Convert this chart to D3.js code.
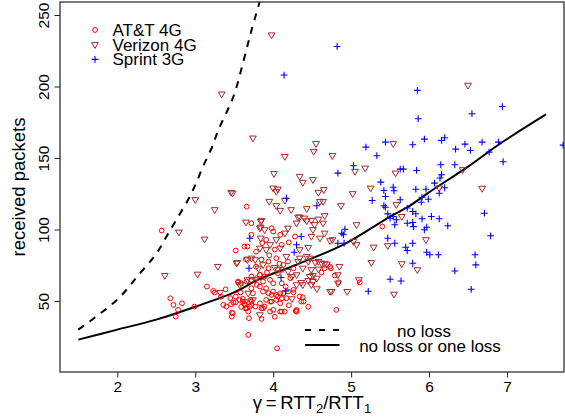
<!DOCTYPE html>
<html>
<head>
<meta charset="utf-8">
<script src="https://cdn.jsdelivr.net/npm/d3@7"></script>
<style>
  body { margin: 0; background: #fff; }
  text { font-family: "Liberation Sans", Arial, sans-serif; fill: #000; }
</style>
</head>
<body>
<script>
// data: [gamma, received packets]
const attPoints = [
  [2.57,99.3],[2.68,51.9],[2.72,47.3],[2.83,48.4],[2.78,43.8],[2.75,39.1],[2.99,46.1],
  [3.15,60.1],[3.23,57],[3.25,55.9],[3.36,47.3],[3.4,46.1],[3.47,41.9],[3.47,39.1],
  [3.49,48.9],[3.46,47.8],[3.39,58.2],[3.52,85.3],[3.63,88.1],[3.67,88.1],[3.65,79.2],
  [3.55,62.9],[3.59,62.4],[3.52,53.1],[3.52,49.2],[3.57,50.8],[3.61,51.5],[3.63,47.8],
  [3.59,45.9],[3.48,41.4],[3.66,44.9],[3.68,42.6],[3.68,26.3],[3.64,49.6],[3.64,44.9],
  [3.7,46.1],[3.71,50.8],[3.74,55.4],[4.05,16.9],[3.66,116],
  [3.98,100.9],[4.0,98.6],[4.09,96.3],[3.91,92.8],[3.72,96.3],[4.11,89.3],[4.28,95.1],
  [4.04,79.9],[4.19,77.6],[3.94,77.6],[3.94,72.9],[3.72,67.1],[3.83,68.3],[3.87,63.6],
  [3.79,61.3],[3.72,58.9],[3.91,58.9],[3.98,54.3],[4.04,54.3],[4.09,55.4],[3.96,49.6],
  [3.89,46.1],[3.72,47.3],[3.85,44.9],[4.0,43.8],[4.11,42.6],[4.15,42.6],[4.3,42.6],
  [4.09,48.4],[4.34,53.1],[4.36,49.6],[4.66,72.9],[4.73,74.1],[4.26,56.1],[4.11,62.4],
  [3.72,104.4],[4.26,72.9],[4.13,75.3],
  [4.81,43.8],[4.29,43],[4.84,63.1],[5.11,63.1],[4.74,72.9],[4.62,69.9],[4.79,67.8],
  [4.38,52.6],[4.39,49.6],[5.4,102.1],
  [3.55,63.6],[3.66,63.6],[3.72,64.8],[3.79,65.9],[3.83,68.3],[3.89,67.1],[3.96,64.8],
  [4.0,62.4],[4.06,69.4],[4.11,71.8],[3.83,60.1],[3.87,56.6],[3.94,55.4],[4.0,56.6],
  [4.06,53.1],[4.13,55.4],[4.19,56.6],[4.26,57.8],[3.91,50.8],[3.98,49.6],[4.04,50.8],
  [4.11,51.9],[4.17,51.9],[3.83,48.4],[3.77,46.1],[3.72,49.6],[3.96,42.6],[4.09,42.6],
  [4.3,43.8],[3.87,44.9],[3.61,49.6],[3.64,47.3],[3.78,84.5],[3.86,90.5],[4.02,86],
  [4.2,91],[3.95,82],[4.08,76],[3.78,74],[3.85,79],[4.22,66],[4.16,60],[3.92,70],
  [3.58,56],[3.45,52],[3.33,53],[3.69,38],[3.85,37.5],[4.02,39],[4.2,47],[4.45,46]
];

const verizonPoints = [
  [3.98,236],[3.34,194.7],[3.74,163.9],[6.5,200.8],[6.43,141.8],[6.68,128.7],[6.13,129],
  [5.65,109],[5.96,92.8],[5.65,76],[5.85,71.8],[5.1,64.8],[5.55,54.7],[4.95,56.6],
  [4.73,56.6],[4.85,74.1],[4.83,68.3],[4.66,76],[2.61,67.8],[3.03,68.7],[3.29,74.1],
  [3.32,55.9],[2.79,98.1],[3.12,93.2],[3.65,105.1],[3.54,76.9],[3.57,61.3],
  [3.84,105.6],[3.83,100.9],[3.89,99.8],[3.84,93.9],[3.83,86.9],[3.91,85.8],[3.96,89.3],
  [4.09,86.9],[4.04,92.8],[4.15,97.4],[4.19,100.9],[4.3,104.4],[4.43,106],[4.53,103.3],
  [4.64,104.4],[4.51,99.8],[4.66,97.4],[4.6,93.9],[4.49,95.1],[4.76,92.8],[4.45,87.4],
  [4.34,85.8],[4.17,81.1],[3.77,78.8],[3.72,79.9],[3.67,78.8],[3.81,72.9],[3.87,75.3],
  [4.02,73.4],[4.06,71.8],[4.19,70.6],[4.34,79.9],[4.43,81.1],[4.47,79.9],[4.58,77.6],
  [4.69,75.7],[4.47,67.1],[4.51,67.8],[4.56,65.9],[4.24,67.1],[4.3,61.3],[4.38,61.3],
  [4.49,61.3],[4.75,56.6],[4.56,58.5],[4.83,62.4],[3.74,50.8],[3.68,55.4],[3.83,40.3],
  [4.24,51.5],[3.77,64.8],[3.67,64.8],
  [4.55,160],[4.52,154.6],[4.76,151.6],[4.15,151],[5.54,160],[4.01,139],[4.34,137.1],
  [4.38,132.9],[4.51,134.8],[5.05,140.6],[5.18,142.9],[5.57,139.4],[4.58,125.9],
  [4.65,127.8],[4.0,128.9],[4.06,128.2],[4.04,126.6],[3.48,125.4],[3.46,125.9],
  [3.95,119.6],[4.15,120.3],[4.6,119.6],[4.64,119.6],[5.02,125],[5.25,128.9],[4.04,116.6],
  [4.23,113.8],[4.43,114.5],[4.87,116.6],[5.58,117.3],[3.85,106.3],[3.84,101.6],
  [4.66,109.6],[4.58,107.2],[4.49,106.3],[4.32,108.6],[5.07,103.3],[5.47,88.6],
  [5.29,87.6],[5.26,76.9],[5.03,91.6],[5.07,89.3],[4.73,92.1],[3.53,76.4],[3.0,120.8],
  [3.25,113.8],[4.09,113.3],[4.34,108.6],[4.4,107.9],
  [4.32,77.6],[4.45,77.6],[4.54,76.9],[4.62,76.4],[4.38,72.9],[4.49,71.8],[4.58,72.2],
  [4.3,68.3],[4.36,62.9],[4.45,64.3],[4.51,63.6]
];

const sprintPoints = [
  [4.82,228],[4.14,208],[5.85,197.3],[6.94,186],[6.55,181],[5.86,177.5],[7.72,159],
  [5.79,159.3],[5.94,163.2],[6.16,162.3],[6.2,164.2],[6.46,159.7],[6.34,156.2],
  [6.53,155.3],[6.68,161.1],[6.89,161.1],[6.77,154.1],[6.95,147.4],[5.63,142.2],
  [5.67,142.2],[5.84,141.3],[6.15,145.3],[6.33,145.3],[6.16,138.3],[6.14,136],
  [6.07,132.4],[5.83,128.2],[5.96,128.2],[6.2,129.2],[6.13,125.4],[5.91,122.6],
  [5.99,121.2],[5.9,119.1],[5.63,120.8],[5.72,115],[5.79,112.6],[5.83,111],[5.91,107.5],
  [6.03,109.1],[6.13,107.5],[5.72,104.4],[5.79,104.9],[5.8,102],[5.97,101.6],[5.94,99.8],
  [6.24,102.6],[6.71,111.4],[6.79,95.6],[5.79,90.4],[5.7,87.6],[5.72,85.3],[5.97,84.1],
  [6.01,82.3],[6.12,82.3],[6.59,82.3],[6.6,75.3],[5.79,76.4],[6.33,71],[6.54,58.2],
  [5.64,64],[5.22,56.8],[5.19,157.6],[5.44,161.1],[5.33,151.6],[5.03,144.6],[4.83,139.4],
  [5.38,133.1],[5.42,127.3],[5.55,127.1],[5.54,129.6],[5.44,123.1],[5.27,120.3],
  [5.42,116.6],[5.44,115.6],[4.56,116.6],[4.17,121.9],[5.5,107.9],[5.54,109.1],
  [5.47,110.9],[5.58,106.8],[5.56,103.3],[4.92,100.2],[4.9,96.3],[4.83,90.4],[5.47,93.9],
  [5.56,90.4],[5.5,65.2],[3.7,93.9],[3.69,72.9],[4.36,95.1],[4.3,89.3],[4.27,84.1],
  [4.1,66.4],[4.16,57.1],[4.88,97.4],[4.91,90.4]
];

// model curves, read point by point
const noLossCurve = [
  [1.5,30],[2.0,51],[2.27,68],[2.5,83],[2.63,95],[2.76,107],[2.91,121],[3.0,131],
  [3.1,144],[3.21,157],[3.3,170],[3.49,193],[3.62,218],[3.72,239],[3.82,258],[3.86,266]
];
const oneLossCurve = [
  [1.5,23],[2.0,30],[2.5,37],[3.0,46],[3.5,56],[3.81,65],[4.28,75],[4.92,90],
  [5.5,109],[5.75,116.5],[6.0,126],[6.5,144],[6.91,160],[7.5,180.5]
];

const xTicks = [2, 3, 4, 5, 6, 7];
const yTicks = [50, 100, 150, 200, 250];
const seriesNames = ["AT&T 4G", "Verizon 4G", "Sprint 3G"];
const curveNames = ["no loss", "no loss or one loss"];

// set the dimensions and margins of the graph
let margin = {top: 2, right: 1, bottom: 47, left: 60},
    width = 565 - margin.left - margin.right,
    height = 419 - margin.top - margin.bottom;

const svgRoot = d3.select("body")
    .append("svg")
    .attr("width", 565)
    .attr("height", 419);

const svg = svgRoot.append("g")
    .attr("transform", `translate(${margin.left},${margin.top})`);

const x = d3.scaleLinear().domain([1.265, 7.731]).range([0, width]);
const y = d3.scaleLinear().domain([0.35, 259.1]).range([height, 0]);

svgRoot.append("defs").append("clipPath")
    .attr("id", "plotclip")
    .append("rect")
    .attr("width", width)
    .attr("height", height);

// X axis
const xAxis = svg.append("g")
    .attr("transform", `translate(0, ${height})`)
    .call(d3.axisBottom(x).tickValues(xTicks).tickFormat(d3.format("d")).tickSize(5.5).tickPadding(3.5));
xAxis.select(".domain").remove();
xAxis.selectAll("text").style("font-size", "15.5px").attr("font-family", null);
xAxis.selectAll("line").attr("stroke", "#222");

// Y axis, labels turned like R does
const yAxis = svg.append("g")
    .call(d3.axisLeft(y).tickValues(yTicks).tickSize(5.5));
yAxis.select(".domain").remove();
yAxis.selectAll("line").attr("stroke", "#222");
yAxis.selectAll("text")
    .attr("x", null)
    .attr("dy", null)
    .attr("text-anchor", "middle")
    .attr("transform", "translate(-10.7,0) rotate(-90)")
    .attr("font-family", null)
    .style("font-size", "15.5px");

// axis labels
svg.append("text")
    .attr("text-anchor", "middle")
    .attr("transform", `translate(${-35}, ${height / 2}) rotate(-90)`)
    .style("font-size", "18.5px")
    .text("received packets");

const xlab = svg.append("text")
    .attr("text-anchor", "middle")
    .attr("x", width / 2)
    .attr("y", height + 37)
    .style("font-size", "18.5px");
xlab.append("tspan").text("\u03B3\u2009=\u2009RTT");
xlab.append("tspan").attr("dy", 4).style("font-size", "13px").text("2");
xlab.append("tspan").attr("dy", -4).text("/RTT");
xlab.append("tspan").attr("dy", 4).style("font-size", "13px").text("1");

// plot area
const plot = svg.append("g").attr("clip-path", "url(#plotclip)");

const line = d3.line()
    .x(d => x(d[0]))
    .y(d => y(d[1]))
    .curve(d3.curveCatmullRom);

plot.append("path")
    .datum(noLossCurve)
    .attr("fill", "none")
    .attr("stroke", "#000")
    .attr("stroke-width", 2)
    .attr("stroke-dasharray", "7,7")
    .attr("d", line);

plot.append("path")
    .datum(oneLossCurve)
    .attr("fill", "none")
    .attr("stroke", "#000")
    .attr("stroke-width", 2)
    .attr("d", line);

const colors = ["#ff0000", "#a52a2a", "#0000ff"];
const triPath = "M-3.4,-2.1L3.4,-2.1L0,3.7Z";
const plusPath = "M-3.4,0H3.4M0,-3.4V3.4";

plot.selectAll(".att")
    .data(attPoints)
    .join("circle")
    .attr("cx", d => x(d[0]))
    .attr("cy", d => y(d[1]))
    .attr("r", 2.4)
    .attr("fill", "none")
    .attr("stroke", colors[0])
    .attr("stroke-width", 1);

plot.selectAll(".vz")
    .data(verizonPoints)
    .join("path")
    .attr("transform", d => `translate(${x(d[0])},${y(d[1])})`)
    .attr("d", triPath)
    .attr("fill", "none")
    .attr("stroke", colors[1])
    .attr("stroke-width", 1);

plot.selectAll(".sp")
    .data(sprintPoints)
    .join("path")
    .attr("transform", d => `translate(${x(d[0])},${y(d[1])})`)
    .attr("d", plusPath)
    .attr("fill", "none")
    .attr("stroke", colors[2])
    .attr("stroke-width", 1.1);

// box around the plot
svg.append("rect")
    .attr("width", width)
    .attr("height", height)
    .attr("fill", "none")
    .attr("stroke", "#222")
    .attr("stroke-width", 1.2);

// legend, top left
const leg = svg.append("g").attr("transform", "translate(35, 28)");
seriesNames.forEach(function(name, i) {
    let g = leg.append("g").attr("transform", `translate(0, ${i * 14.7})`);
    if (i === 0) {
        g.append("circle").attr("r", 2.4).attr("fill", "none").attr("stroke", colors[0]);
    } else if (i === 1) {
        g.append("path").attr("d", triPath).attr("fill", "none").attr("stroke", colors[1]);
    } else {
        g.append("path").attr("d", plusPath).attr("fill", "none").attr("stroke", colors[2]).attr("stroke-width", 1.1);
    }
    g.append("text")
        .attr("x", 17.5)
        .attr("y", 6)
        .style("font-size", "17px")
        .text(name);
});

// legend, bottom right
const leg2 = svg.append("g");
curveNames.forEach(function(name, i) {
    let yy = 328 + i * 15;
    leg2.append("line")
        .attr("x1", 245).attr("x2", 279.5)
        .attr("y1", yy).attr("y2", yy)
        .attr("stroke", "#000")
        .attr("stroke-width", 2)
        .attr("stroke-dasharray", i === 0 ? "6,8" : null);
    leg2.append("text")
        .attr("x", i === 0 ? 364 : 370)
        .attr("y", yy + 6.5)
        .attr("text-anchor", "middle")
        .style("font-size", "17px")
        .text(name);
});
</script>
</body>
</html>
